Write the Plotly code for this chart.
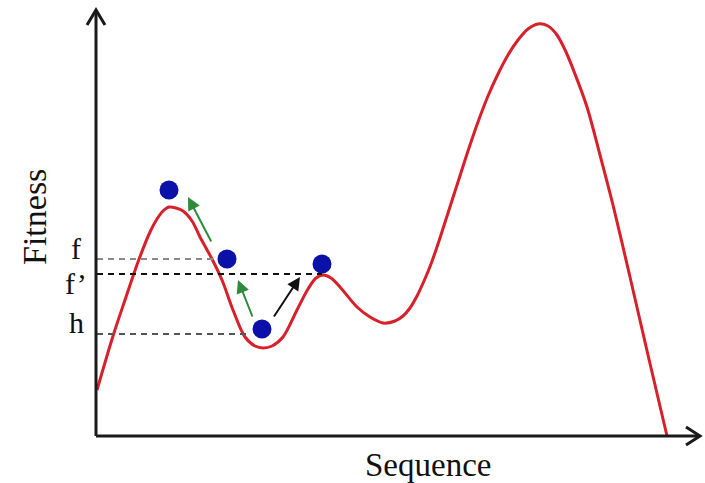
import plotly.graph_objects as go

# ---- data (sequence position, fitness) ----
curve_seq = [1, 17, 29, 42, 54, 61, 67, 73, 80, 87, 96, 104, 116, 126, 137, 149, 159, 167,
             176, 187, 201, 212, 220, 227, 235, 244, 261, 274, 287, 299, 307, 314, 321, 328,
             335, 343, 352, 362, 372, 382, 392, 402, 412, 422, 432, 442, 452, 461, 470, 479,
             491, 504, 517, 534, 552, 571]
curve_fit = [46, 100, 136, 174, 204, 217, 225, 229, 228, 225, 215, 199, 177, 156, 126, 99, 90, 88,
             90, 99, 126, 147, 158, 161, 158, 149, 129, 119, 113, 115, 120, 128, 140, 155,
             172, 195, 223, 254, 285, 314, 340, 362, 381, 396, 407, 412, 410, 401, 384, 362,
             329, 281, 231, 159, 81, 0]

dot_seq = [73, 131, 166, 226]
dot_fit = [246, 177, 107, 172]

level_names = ["f", "f\u2019", "h"]
level_values = [177, 162, 102]
level_ends = [121, 226, 151]

# moves: (tail_seq, tail_fit, head_seq, head_fit)
green_moves = [(116, 193, 92, 239), (157, 118, 142, 156)]
black_moves = [(177, 118, 204, 159)]

X_MAX = 604
Y_MAX = 426

FONT = "Liberation Serif, Times New Roman, serif"

fig = go.Figure()

# fitness landscape
fig.add_trace(go.Scatter(x=curve_seq, y=curve_fit, mode="lines",
                         line=dict(color="#d8202a", width=3, shape="spline", smoothing=0.9),
                         hoverinfo="skip"))

shapes = []
annotations = []

# dashed reference levels
level_colors = ["#8a8a8a", "#111111", "#555555"]
for val, end, col in zip(level_values, level_ends, level_colors):
    shapes.append(dict(type="line", xref="x", yref="y", x0=1, x1=end, y0=val, y1=val,
                       line=dict(color=col, width=2, dash="6px,5px")))

# axes with arrows
axis_col = "#1a1a1a"
shapes.append(dict(type="line", xref="x", yref="y", x0=0, x1=X_MAX, y0=0, y1=0,
                   line=dict(color=axis_col, width=3)))
shapes.append(dict(type="line", xref="x", yref="y", x0=0, x1=0, y0=0, y1=Y_MAX - 2,
                   line=dict(color=axis_col, width=3)))
shapes.append(dict(type="path", xref="x", yref="y",
                   path=f"M {X_MAX-14},9 L {X_MAX},0 L {X_MAX-14},-9",
                   line=dict(color=axis_col, width=3)))
shapes.append(dict(type="path", xref="x", yref="y",
                   path=f"M -9,{Y_MAX-15} L 0,{Y_MAX} L 9,{Y_MAX-15}",
                   line=dict(color=axis_col, width=3)))

# arrows of moves
for (tx, ty, hx, hy) in green_moves:
    annotations.append(dict(x=hx, y=hy, ax=tx, ay=ty, xref="x", yref="y", axref="x", ayref="y",
                            showarrow=True, arrowhead=2, arrowsize=1.3, arrowwidth=2,
                            arrowcolor="#2e8b3a", text=""))
for (tx, ty, hx, hy) in black_moves:
    annotations.append(dict(x=hx, y=hy, ax=tx, ay=ty, xref="x", yref="y", axref="x", ayref="y",
                            showarrow=True, arrowhead=2, arrowsize=1.3, arrowwidth=2,
                            arrowcolor="#111111", text=""))

# dots
fig.add_trace(go.Scatter(x=dot_seq, y=dot_fit, mode="markers",
                         marker=dict(color="#0b10a8", size=19, line=dict(width=0)),
                         hoverinfo="skip"))

# level labels
label_y = [188, 153, 114]
for name, ly in zip(level_names, label_y):
    annotations.append(dict(x=-20, y=ly, xref="x", yref="y", text=name, showarrow=False,
                            font=dict(family=FONT, size=30, color="#111111")))

annotations.append(dict(x=-62, y=219, xref="x", yref="y", text="Fitness", showarrow=False,
                        textangle=-90, font=dict(family=FONT, size=34, color="#111111")))
annotations.append(dict(x=332, y=-29, xref="x", yref="y", text="Sequence", showarrow=False,
                        font=dict(family=FONT, size=33, color="#111111")))

fig.update_layout(
    width=705, height=483,
    margin=dict(l=0, r=0, t=0, b=0),
    paper_bgcolor="white", plot_bgcolor="white",
    showlegend=False,
    xaxis=dict(range=[-96, 609], visible=False, fixedrange=True),
    yaxis=dict(range=[-47, 436], visible=False, fixedrange=True),
    shapes=shapes, annotations=annotations,
)

fig.write_html("out.html", config={"displayModeBar": False},
               post_script="document.body.style.margin='0';document.body.style.overflow='hidden';")
